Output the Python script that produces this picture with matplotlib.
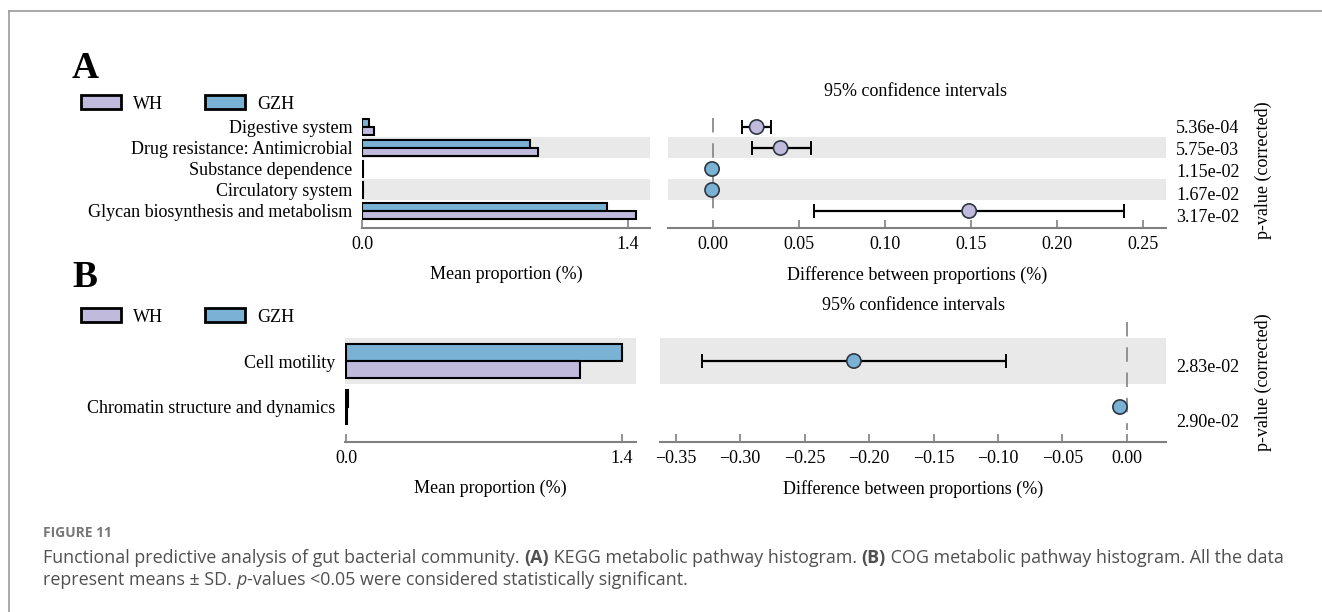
import matplotlib.pyplot as plt
from matplotlib.patches import Patch
from matplotlib.lines import Line2D
from matplotlib.text import Annotation
import numpy as np

# panel A - KEGG pathways
kegg_paths = ["Digestive system", "Drug resistance: Antimicrobial", "Substance dependence",
              "Circulatory system", "Glycan biosynthesis and metabolism"]
kegg_wh = [0.063, 0.926, 0.004, 0.004, 1.440]
kegg_gzh = [0.037, 0.886, 0.004, 0.004, 1.291]
kegg_diff = [0.0256, 0.0395, -0.0003, -0.0003, 0.149]
kegg_lo = [0.0170, 0.0228, -0.0004, -0.0004, 0.059]
kegg_hi = [0.0337, 0.0572, -0.0002, -0.0002, 0.239]
kegg_p = ["5.36e-04", "5.75e-03", "1.15e-02", "1.67e-02", "3.17e-02"]
kegg_ci_ticks = [0.00, 0.05, 0.10, 0.15, 0.20, 0.25]

# panel B - COG pathways
cog_paths = ["Cell motility", "Chromatin structure and dynamics"]
cog_wh = [1.187, 0.006]
cog_gzh = [1.400, 0.008]
cog_diff = [-0.2118, -0.0054]
cog_lo = [-0.3294, -0.0056]
cog_hi = [-0.0936, -0.0052]
cog_p = ["2.83e-02", "2.90e-02"]
cog_ci_ticks = [-0.35, -0.30, -0.25, -0.20, -0.15, -0.10, -0.05, 0.00]

bar_ticks = [0.0, 1.4]

WH_COL = "#c0badd"
GZH_COL = "#7ab2d6"
STRIPE = "#e9e9e9"
AXCOL = "#808080"
W, H = 1322, 612

plt.rcParams['font.family'] = ['Liberation Serif', 'DejaVu Serif']
plt.rcParams['font.size'] = 13


def px_box(x0, y0, x1, y1):
    return [x0 / W, 1 - y1 / H, (x1 - x0) / W, (y1 - y0) / H]


def style_axis(ax):
    for s in ["top", "left", "right"]:
        ax.spines[s].set_visible(False)
    ax.spines["bottom"].set_color(AXCOL)
    ax.spines["bottom"].set_linewidth(1.5)
    ax.tick_params(axis="x", direction="in", length=6, width=1.2, color=AXCOL,
                   pad=6, labelsize=13)
    ax.tick_params(axis="y", length=0, pad=7, labelsize=13)


def panel(fig, bar_box, ci_box, paths, wh, gzh, diff, lo, hi, pvals,
          bar_xlim, ci_xlim, ylim, ci_ticks, vline_span, p_shift):
    n = len(paths)
    y = np.arange(n)
    stripes = range(1, n, 2) if n > 2 else [0]

    # mean proportions
    ax1 = fig.add_axes(px_box(*bar_box))
    for i in stripes:
        ax1.axhspan(i - 0.5, i + 0.5, color=STRIPE, lw=0, zorder=0)
    ax1.barh(y - 0.18, gzh, height=0.36, color=GZH_COL, edgecolor="black", lw=1.5, zorder=2)
    ax1.barh(y + 0.18, wh, height=0.36, color=WH_COL, edgecolor="black", lw=1.5, zorder=2)
    ax1.set_xlim(*bar_xlim)
    ax1.set_ylim(*ylim)
    ax1.set_yticks(y)
    ax1.set_yticklabels(paths)
    ax1.set_xticks(bar_ticks)
    ax1.set_xticklabels(["0.0", "1.4"])
    ax1.set_xlabel("Mean proportion (%)", labelpad=9, fontsize=13)
    style_axis(ax1)

    # differences with 95% CI
    ax2 = fig.add_axes(px_box(*ci_box))
    for i in stripes:
        ax2.axhspan(i - 0.5, i + 0.5, color=STRIPE, lw=0, zorder=0)
    ax2.vlines(0, vline_span[0], vline_span[1], color="#8a8a8a", lw=1.3,
               linestyles=(0, (8, 6)), zorder=1)
    diff = np.array(diff)
    lo = np.array(lo)
    hi = np.array(hi)
    wide = (hi - lo) > 0.002
    ax2.errorbar(diff[wide], y[wide], xerr=[diff[wide] - lo[wide], hi[wide] - diff[wide]],
                 fmt="none", ecolor="black", elinewidth=1.6, capsize=5, capthick=1.4, zorder=2)
    cols = [WH_COL if d > 0 else GZH_COL for d in diff]
    ax2.scatter(diff, y, s=105, c=cols, edgecolors="#2e3640", linewidths=1.2, zorder=3)
    ax2.set_xlim(*ci_xlim)
    ax2.set_ylim(*ylim)
    ax2.set_yticks([])
    ax2.set_xticks(ci_ticks)
    ax2.set_xticklabels([f"{t:.2f}".replace("-", "\u2212") for t in ci_ticks])
    ax2.set_xlabel("Difference between proportions (%)", labelpad=9, fontsize=13)
    style_axis(ax2)

    shifts = np.linspace(p_shift[0], p_shift[1], n)
    for i, p in enumerate(pvals):
        ax2.text(1.02, i + shifts[i], p, transform=ax2.get_yaxis_transform(),
                 ha="left", va="center", fontsize=13)


def caption_line(fig, x, y, parts):
    last = None
    for txt, style in parts:
        opts = dict(fontsize=12.9, color="#505050", family=["Open Sans", "DejaVu Sans"],
                    va="center", ha="left",
                    weight="bold" if style == "b" else "normal",
                    style="italic" if style == "i" else "normal")
        if last is None:
            last = fig.text(x, y, txt, **opts)
        else:
            last = fig.add_artist(Annotation(txt, xy=(1, 0.5), xycoords=last, **opts))


def main():
    fig = plt.figure(figsize=(W / 100, H / 100), dpi=100)

    # frame lines
    fig.add_artist(Line2D([9 / W, 1], [1 - 11 / H, 1 - 11 / H], color="#9a9a9a", lw=1.2))
    fig.add_artist(Line2D([9 / W, 9 / W], [0, 1 - 11 / H], color="#9a9a9a", lw=1.2))

    handles = [Patch(facecolor=WH_COL, edgecolor="black", lw=2, label="WH"),
               Patch(facecolor=GZH_COL, edgecolor="black", lw=2, label="GZH")]
    leg_kw = dict(loc="center left", ncol=2, frameon=False, borderpad=0, borderaxespad=0,
                  fontsize=13, handlelength=2.2, handleheight=0.8, handletextpad=0.7,
                  columnspacing=2.3)

    # panel A
    panel(fig, (362, 115, 650, 228), (668, 115, 1166, 228),
          kegg_paths, kegg_wh, kegg_gzh, kegg_diff, kegg_lo, kegg_hi, kegg_p,
          (0, 1.516), (-0.0259, 0.2633), (4.81, -0.571), kegg_ci_ticks,
          (-0.43, 4.33), (0.05, 0.33))
    fig.text(72 / W, 1 - 78 / H, "A", fontsize=27, weight="bold", va="baseline")
    fig.legend(handles=handles, bbox_to_anchor=(81 / W, 1 - 104 / H), **leg_kw)
    fig.text(916 / W, 1 - 92 / H, "95% confidence intervals", ha="center", va="center")
    fig.text(1263 / W, 1 - 170 / H, "p-value (corrected)", rotation=90,
             ha="center", va="center")

    # panel B
    panel(fig, (345, 322, 636, 442), (660, 322, 1166, 442),
          cog_paths, cog_wh, cog_gzh, cog_diff, cog_lo, cog_hi, cog_p,
          (-0.005, 1.471), (-0.3622, 0.0303), (1.761, -0.848), cog_ci_ticks,
          (-0.85, 1.5), (0.15, 0.33))
    fig.text(72 / W, 1 - 287 / H, "B", fontsize=27, weight="bold", va="baseline")
    fig.legend(handles=handles, bbox_to_anchor=(81 / W, 1 - 317 / H), **leg_kw)
    fig.text(913 / W, 1 - 305 / H, "95% confidence intervals", ha="center", va="center")
    fig.text(1263 / W, 1 - 382 / H, "p-value (corrected)", rotation=90,
             ha="center", va="center")

    # caption
    fig.text(43 / W, 1 - 533 / H, "FIGURE 11", fontsize=10, weight="bold", color="#787878",
             family=["Open Sans", "DejaVu Sans"], va="center")
    caption_line(fig, 43 / W, 1 - 558 / H,
                 [("Functional predictive analysis of gut bacterial community. ", ""), ("(A)", "b"),
                  (" KEGG metabolic pathway histogram. ", ""), ("(B)", "b"),
                  (" COG metabolic pathway histogram. All the data", "")])
    caption_line(fig, 43 / W, 1 - 580 / H,
                 [("represent means \u00b1 SD. ", ""), ("p", "i"),
                  ("-values <0.05 were considered statistically significant.", "")])

    fig.savefig("out.png", dpi=100)


main()
